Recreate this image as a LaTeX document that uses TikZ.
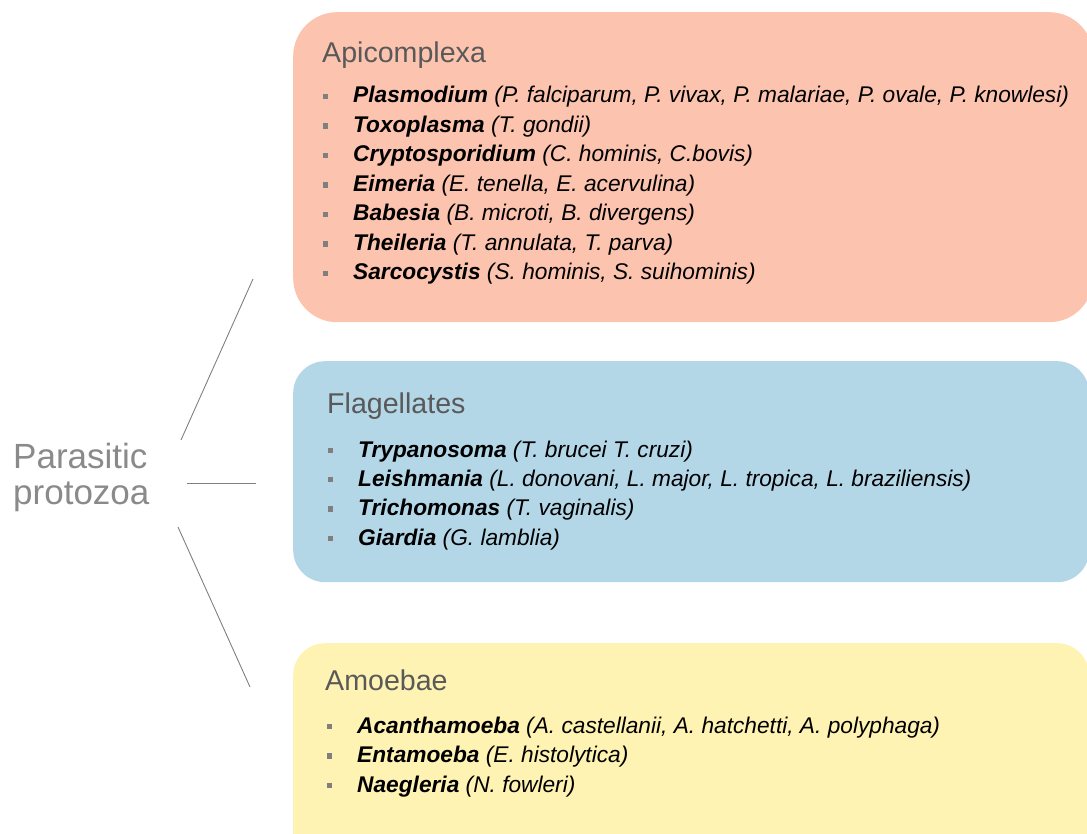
\documentclass[tikz,border=0pt]{standalone}
\usepackage{fontspec}
\setmainfont{Liberation Sans}
\definecolor{apicfill}{HTML}{FCC3AE}
\definecolor{flagfill}{HTML}{B4D7E8}
\definecolor{amoefill}{HTML}{FFF3B3}
\definecolor{titlegray}{HTML}{595959}
\definecolor{rootgray}{HTML}{8A8A8A}
\definecolor{linegray}{HTML}{808080}
\definecolor{bulgray}{HTML}{7F7F7F}
\begin{document}
\begin{tikzpicture}[x=1pt,y=-1pt,
  grp/.style={draw=none, rectangle, anchor=north west, inner sep=0pt},
  ttl/.style={anchor=base west, inner sep=0pt, text=titlegray, font=\fontsize{28.6}{34}\selectfont},
  entry/.style={anchor=base west, inner sep=0pt, text=black, font=\fontsize{22.7}{26}\selectfont},
  bul/.style={fill=bulgray, rectangle, minimum size=5.5pt, inner sep=0pt},
  rootlbl/.style={anchor=base west, inner sep=0pt, text=rootgray, font=\fontsize{35}{40}\selectfont},
  link/.style={draw=linegray, line width=0.9pt}]
\useasboundingbox (0,0) rectangle (1087,834);
\clip (0,0) rectangle (1087,834);

% group boxes
\node[grp, fill=apicfill, rounded corners=44pt, minimum width=800pt, minimum height=310pt] (apic) at (293,12) {};
\node[grp, fill=flagfill, rounded corners=32pt, minimum width=796pt, minimum height=221pt] (flag) at (293,361) {};
\node[grp, fill=amoefill, rounded corners=32pt, minimum width=796pt, minimum height=230pt] (amoe) at (293,643) {};

% root label
\node[rootlbl] (root1) at (13,468) {Parasitic};
\node[rootlbl] (root2) at (13,504) {protozoa};

% connectors
\coordinate (l1s) at (181,440);
\coordinate (l1e) at (253,279);
\coordinate (l2s) at (187,483);
\coordinate (l2e) at (256,483);
\coordinate (l3s) at (178,527);
\coordinate (l3e) at (250,687);
\draw[link] (l1s) -- (l1e);
\draw[link] (l2s) -- (l2e);
\draw[link] (l3s) -- (l3e);

% Apicomplexa
\node[ttl] (apict) at (322,63) {Apicomplexa};
\foreach \i/\y in {1/103,2/132.5,3/162,4/191.5,5/221,6/250.5,7/280}{
  \node[bul] (ab\i) at (325.5,\y-6.5) {};
}
\node[entry] (a1) at (353,103) {\textbf{\textit{Plasmodium}} \textit{(P. falciparum, P. vivax, P. malariae, P. ovale, P. knowlesi)}};
\node[entry] (a2) at (353,132.5) {\textbf{\textit{Toxoplasma}} \textit{(T. gondii)}};
\node[entry] (a3) at (353,162) {\textbf{\textit{Cryptosporidium}} \textit{(C. hominis, C.bovis)}};
\node[entry] (a4) at (353,191.5) {\textbf{\textit{Eimeria}} \textit{(E. tenella, E. acervulina)}};
\node[entry] (a5) at (353,221) {\textbf{\textit{Babesia}} \textit{(B. microti, B. divergens)}};
\node[entry] (a6) at (353,250.5) {\textbf{\textit{Theileria}} \textit{(T. annulata, T. parva)}};
\node[entry] (a7) at (353,280) {\textbf{\textit{Sarcocystis}} \textit{(S. hominis, S. suihominis)}};

% Flagellates
\node[ttl] (flagt) at (327,413) {Flagellates};
\foreach \i/\y in {1/457,2/486,3/515.5,4/545}{
  \node[bul] (fb\i) at (330.5,\y-6.5) {};
}
\node[entry] (f1) at (358,457) {\textbf{\textit{Trypanosoma}} \textit{(T. brucei T. cruzi)}};
\node[entry] (f2) at (358,486) {\textbf{\textit{Leishmania}} \textit{(L. donovani, L. major, L. tropica, L. braziliensis)}};
\node[entry] (f3) at (358,515.5) {\textbf{\textit{Trichomonas}} \textit{(T. vaginalis)}};
\node[entry] (f4) at (358,545) {\textbf{\textit{Giardia}} \textit{(G. lamblia)}};

% Amoebae
\node[ttl] (amoet) at (325,690) {Amoebae};
\foreach \i/\y in {1/733,2/762.5,3/792}{
  \node[bul] (mb\i) at (329.5,\y-6.5) {};
}
\node[entry] (m1) at (357,733) {\textbf{\textit{Acanthamoeba}} \textit{(A. castellanii, A. hatchetti, A. polyphaga)}};
\node[entry] (m2) at (357,762.5) {\textbf{\textit{Entamoeba}} \textit{(E. histolytica)}};
\node[entry] (m3) at (357,792) {\textbf{\textit{Naegleria}} \textit{(N. fowleri)}};
\end{tikzpicture}
\end{document}
